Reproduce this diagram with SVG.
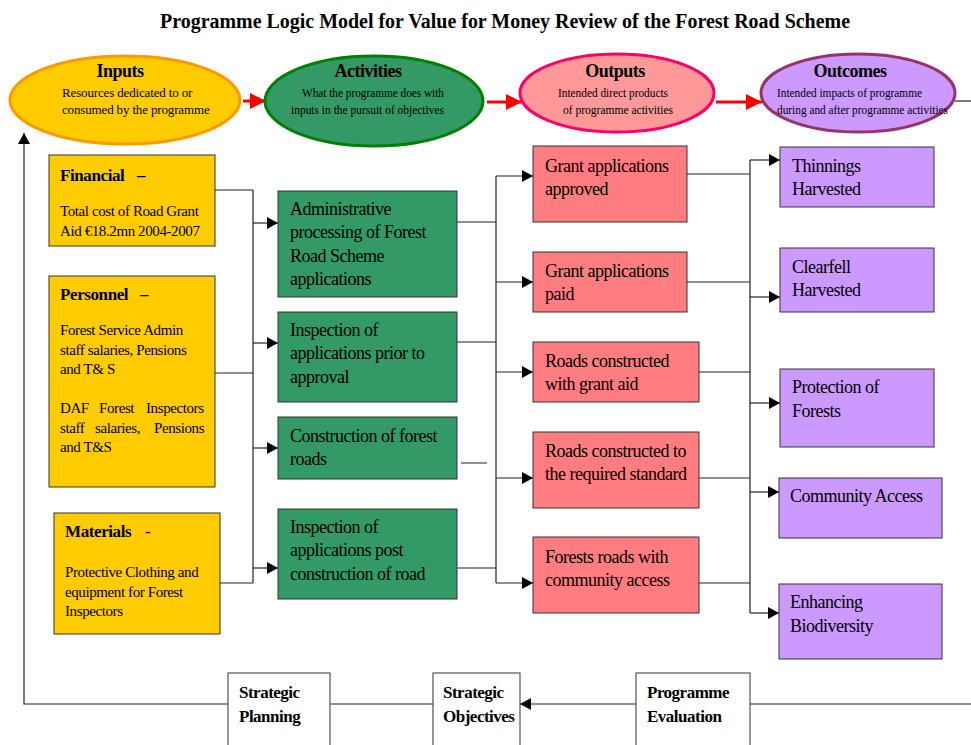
<svg xmlns="http://www.w3.org/2000/svg" width="971" height="745" viewBox="0 0 971 745">
<style>
text{font-family:"Liberation Serif","Times New Roman",serif;fill:#000}
.title{font-size:20px;font-weight:bold}
.eh{font-size:18px;font-weight:bold;text-anchor:middle;letter-spacing:-0.5px}
.es{font-size:13px;letter-spacing:-0.15px}
.es2{font-size:12px}
.bh{font-size:17px;font-weight:bold;letter-spacing:-0.4px}
.bt{font-size:15px;letter-spacing:-0.4px}
.nt{font-size:18px;letter-spacing:-0.5px}
.sb{font-size:17px;font-weight:bold;letter-spacing:-0.5px}
.box{stroke:#333;stroke-width:1}
.yel{fill:#FFCC00}
.grn{fill:#339966}
.pnk{fill:#FF7C80}
.pur{fill:#CC99FF}
.wht{fill:#fff}
.ln{fill:none;stroke:#222;stroke-width:1.2}
.ar{fill:none;stroke:#222;stroke-width:1.2;marker-end:url(#ah)}
.red{fill:none;stroke:#FF0000;stroke-width:3;marker-end:url(#rh)}
</style>
<defs>
<marker id="ah" markerUnits="userSpaceOnUse" markerWidth="11" markerHeight="12" refX="11" refY="6" orient="auto"><path d="M0,0 L11,6 L0,12 z" fill="#000"/></marker>
<marker id="rh" markerUnits="userSpaceOnUse" markerWidth="16" markerHeight="16" refX="16" refY="8" orient="auto"><path d="M0,0 L16,8 L0,16 z" fill="#FF0000"/></marker>
</defs>
<rect width="971" height="745" fill="#fff"/>
<text class="title" x="505" y="28" text-anchor="middle" textLength="690" lengthAdjust="spacingAndGlyphs">Programme Logic Model for Value for Money Review of the Forest Road Scheme</text>

<g id="connectors">
<path class="red" d="M243,101 H266"/>
<path class="red" d="M487,102 H522"/>
<path class="red" d="M716,102 H762"/>
<path class="ln" d="M955,101 H971"/>
<path class="ln" d="M215,190 H253 M215,373 H253 M220,583 H253 M253,190 V583"/>
<path class="ar" d="M253,223 H278"/>
<path class="ar" d="M253,343 H278"/>
<path class="ar" d="M253,448 H278"/>
<path class="ar" d="M253,568 H278"/>
<path class="ln" d="M457,222 H496 M457,342 H496 M457,568 H496 M461,463 H487 M496,176 V583"/>
<path class="ar" d="M496,176 H533"/>
<path class="ar" d="M496,282 H533"/>
<path class="ar" d="M496,372 H533"/>
<path class="ar" d="M496,478 H533"/>
<path class="ar" d="M496,583 H533"/>
<path class="ln" d="M687,174 H750 M687,282 H750 M699,372 H750 M699,478 H750 M699,583 H750 M750,160 V613"/>
<path class="ar" d="M750,160 H780"/>
<path class="ar" d="M750,297 H780"/>
<path class="ar" d="M750,403 H780"/>
<path class="ar" d="M750,492 H779"/>
<path class="ar" d="M750,613 H779"/>
<path class="ln" d="M971,704 H750 M433,704 H330"/>
<path class="ar" d="M636,704 H520"/>
<path class="ar" d="M228,704 H24 V133"/>
</g>

<g id="inputs">
<ellipse cx="125" cy="100" rx="115" ry="44" fill="#FFCC00" stroke="#FF9900" stroke-width="3"/>
<text class="eh" x="120" y="77">Inputs</text>
<text class="es" x="62" y="97">Resources dedicated to or</text>
<text class="es" x="62" y="114">consumed by the programme</text>
</g>
<g id="activities">
<ellipse cx="374" cy="101" rx="109" ry="45" fill="#339966" stroke="#008000" stroke-width="3"/>
<text class="eh" x="368" y="77">Activities</text>
<text class="es2" x="302" y="97" textLength="142" lengthAdjust="spacingAndGlyphs">What the programme does with</text>
<text class="es2" x="291" y="114" textLength="153" lengthAdjust="spacingAndGlyphs">inputs in the pursuit of objectives</text>
</g>
<g id="outputs">
<ellipse cx="617" cy="93" rx="97" ry="39" fill="#FF9999" stroke="#FF0066" stroke-width="3"/>
<text class="eh" x="615" y="77">Outputs</text>
<text class="es2" x="558" y="97" textLength="110" lengthAdjust="spacingAndGlyphs">Intended direct products</text>
<text class="es2" x="563" y="114" textLength="110" lengthAdjust="spacingAndGlyphs">of programme activities</text>
</g>
<g id="outcomes">
<ellipse cx="858" cy="93" rx="97" ry="39" fill="#CC99FF" stroke="#993366" stroke-width="3"/>
<text class="eh" x="850" y="77">Outcomes</text>
<text class="es2" x="777" y="97" textLength="145" lengthAdjust="spacingAndGlyphs">Intended impacts of programme</text>
<text class="es2" x="777" y="114" textLength="171" lengthAdjust="spacingAndGlyphs">during and after programme activities</text>
</g>

<g id="financial">
<rect class="box yel" x="49" y="155" width="166" height="91"/>
<text class="bh" x="60" y="181">Financial<tspan x="137">–</tspan></text>
<text class="bt" x="60" y="216">Total cost of Road Grant</text>
<text class="bt" x="60" y="236">Aid €18.2mn 2004-2007</text>
</g>
<g id="personnel">
<rect class="box yel" x="49" y="276" width="166" height="211"/>
<text class="bh" x="60" y="300">Personnel<tspan x="140">–</tspan></text>
<text class="bt" x="60" y="335">Forest Service Admin</text>
<text class="bt" x="60" y="355">staff salaries, Pensions</text>
<text class="bt" x="60" y="374">and T&amp; S</text>
<text class="bt" x="60" y="413">DAF<tspan x="99">Forest</tspan><tspan x="146">Inspectors</tspan></text>
<text class="bt" x="60" y="433">staff<tspan x="95">salaries,</tspan><tspan x="154">Pensions</tspan></text>
<text class="bt" x="60" y="452">and T&amp;S</text>
</g>
<g id="materials">
<rect class="box yel" x="54" y="513" width="166" height="121"/>
<text class="bh" x="65" y="537">Materials<tspan x="145">-</tspan></text>
<text class="bt" x="65" y="577">Protective Clothing and</text>
<text class="bt" x="65" y="597">equipment for Forest</text>
<text class="bt" x="65" y="616">Inspectors</text>
</g>

<g id="act-admin">
<rect class="box grn" x="278" y="191" width="179" height="106"/>
<text class="nt" x="290" y="215">Administrative</text>
<text class="nt" x="290" y="238">processing of Forest</text>
<text class="nt" x="290" y="262">Road Scheme</text>
<text class="nt" x="290" y="285">applications</text>
</g>
<g id="act-insp-prior">
<rect class="box grn" x="278" y="312" width="179" height="90"/>
<text class="nt" x="290" y="336">Inspection of</text>
<text class="nt" x="290" y="359">applications prior to</text>
<text class="nt" x="290" y="383">approval</text>
</g>
<g id="act-construction">
<rect class="box grn" x="278" y="417" width="179" height="62"/>
<text class="nt" x="290" y="442">Construction of forest</text>
<text class="nt" x="290" y="465">roads</text>
</g>
<g id="act-insp-post">
<rect class="box grn" x="278" y="509" width="179" height="90"/>
<text class="nt" x="290" y="533">Inspection of</text>
<text class="nt" x="290" y="556">applications post</text>
<text class="nt" x="290" y="580">construction of road</text>
</g>

<g id="out-approved">
<rect class="box pnk" x="533" y="146" width="154" height="76"/>
<text class="nt" x="545" y="172">Grant applications</text>
<text class="nt" x="545" y="195">approved</text>
</g>
<g id="out-paid">
<rect class="box pnk" x="533" y="252" width="154" height="60"/>
<text class="nt" x="545" y="277">Grant applications</text>
<text class="nt" x="545" y="300">paid</text>
</g>
<g id="out-grant-aid">
<rect class="box pnk" x="533" y="342" width="166" height="60"/>
<text class="nt" x="545" y="367">Roads constructed</text>
<text class="nt" x="545" y="390">with grant aid</text>
</g>
<g id="out-standard">
<rect class="box pnk" x="533" y="432" width="166" height="76"/>
<text class="nt" x="545" y="457">Roads constructed to</text>
<text class="nt" x="545" y="480">the required standard</text>
</g>
<g id="out-community">
<rect class="box pnk" x="533" y="537" width="166" height="76"/>
<text class="nt" x="545" y="563">Forests roads with</text>
<text class="nt" x="545" y="586">community access</text>
</g>

<g id="oc-thinnings">
<rect class="box pur" x="780" y="147" width="154" height="60"/>
<text class="nt" x="792" y="172">Thinnings</text>
<text class="nt" x="792" y="195">Harvested</text>
</g>
<g id="oc-clearfell">
<rect class="box pur" x="780" y="248" width="154" height="64"/>
<text class="nt" x="792" y="273">Clearfell</text>
<text class="nt" x="792" y="296">Harvested</text>
</g>
<g id="oc-protection">
<rect class="box pur" x="780" y="369" width="154" height="78"/>
<text class="nt" x="792" y="393">Protection of</text>
<text class="nt" x="792" y="417">Forests</text>
</g>
<g id="oc-community">
<rect class="box pur" x="779" y="478" width="163" height="60"/>
<text class="nt" x="790" y="502">Community Access</text>
</g>
<g id="oc-biodiversity">
<rect class="box pur" x="779" y="584" width="163" height="75"/>
<text class="nt" x="790" y="608">Enhancing</text>
<text class="nt" x="790" y="632">Biodiversity</text>
</g>

<g id="strategic-planning">
<rect class="box wht" x="228" y="673" width="102" height="80"/>
<text class="sb" x="239" y="698">Strategic</text>
<text class="sb" x="239" y="722">Planning</text>
</g>
<g id="strategic-objectives">
<rect class="box wht" x="433" y="673" width="87" height="80"/>
<text class="sb" x="443" y="698">Strategic</text>
<text class="sb" x="443" y="722">Objectives</text>
</g>
<g id="programme-evaluation">
<rect class="box wht" x="636" y="673" width="114" height="80"/>
<text class="sb" x="647" y="698">Programme</text>
<text class="sb" x="647" y="722">Evaluation</text>
</g>
</svg>
